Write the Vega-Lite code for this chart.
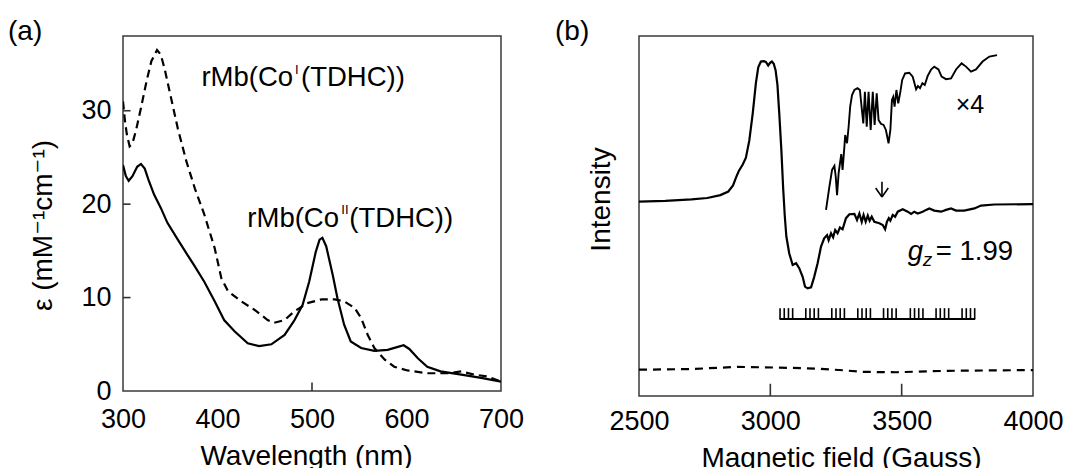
{
  "$schema": "https://vega.github.io/schema/vega-lite/v6.json",
  "padding": {"left": 7, "top": 17, "right": 0, "bottom": 0},
  "bounds": "flush",
  "spacing": 138,
  "config": {
    "font": "Liberation Sans",
    "view": {"stroke": "#3a3a3a", "strokeWidth": 1.5},
    "axis": {"domain": false, "grid": false, "zindex": 1, "labelFontSize": 27, "titleFontSize": 28, "labelColor": "#000", "titleColor": "#000", "titleFontWeight": "normal", "labelFont": "Liberation Sans", "titleFont": "Liberation Sans, DejaVu Sans", "tickColor": "#3a3a3a", "tickWidth": 1.5, "labelFlush": false, "labelOverlap": false},
    "title": {"fontSize": 28, "fontWeight": "normal", "anchor": "start", "frame": "group", "baseline": "alphabetic", "offset": -10, "color": "#000", "font": "Liberation Sans"}
  },
  "datasets": {
    "absII": [
      {"nm":300,"eps":24.2},{"nm":303,"eps":23.0},{"nm":306,"eps":22.5},{"nm":310,"eps":23.0},{"nm":315,"eps":24.0},{"nm":319,"eps":24.3},{"nm":323,"eps":23.8},{"nm":327,"eps":22.6},{"nm":333,"eps":21.0},{"nm":340,"eps":19.6},{"nm":347,"eps":18.0},{"nm":358,"eps":16.2},{"nm":368,"eps":14.6},{"nm":375,"eps":13.5},{"nm":386,"eps":11.7},{"nm":397,"eps":9.6},{"nm":407,"eps":7.6},{"nm":418,"eps":6.4},{"nm":432,"eps":5.1},{"nm":444,"eps":4.8},{"nm":457,"eps":5.0},{"nm":471,"eps":6.0},{"nm":481,"eps":7.5},{"nm":490,"eps":9.2},{"nm":497,"eps":11.7},{"nm":504,"eps":14.9},{"nm":508,"eps":16.2},{"nm":511,"eps":16.4},{"nm":515,"eps":15.5},{"nm":522,"eps":12.4},{"nm":527,"eps":9.9},{"nm":534,"eps":7.1},{"nm":541,"eps":5.3},{"nm":552,"eps":4.6},{"nm":566,"eps":4.3},{"nm":580,"eps":4.4},{"nm":590,"eps":4.7},{"nm":597,"eps":4.9},{"nm":603,"eps":4.5},{"nm":612,"eps":3.5},{"nm":622,"eps":2.6},{"nm":636,"eps":2.1},{"nm":658,"eps":1.75},{"nm":679,"eps":1.4},{"nm":700,"eps":1.0}
    ],
    "absI": [
      {"nm":300,"eps":31.0},{"nm":302,"eps":29.0},{"nm":304,"eps":27.5},{"nm":307,"eps":26.2},{"nm":310,"eps":26.5},{"nm":314,"eps":28.0},{"nm":319,"eps":30.3},{"nm":325,"eps":33.2},{"nm":330,"eps":35.3},{"nm":336,"eps":36.5},{"nm":340,"eps":36.0},{"nm":344,"eps":34.5},{"nm":351,"eps":31.3},{"nm":358,"eps":28.1},{"nm":367,"eps":24.6},{"nm":376,"eps":21.7},{"nm":386,"eps":18.9},{"nm":397,"eps":15.3},{"nm":404,"eps":12.1},{"nm":411,"eps":10.7},{"nm":425,"eps":9.6},{"nm":439,"eps":8.7},{"nm":453,"eps":7.6},{"nm":460,"eps":7.3},{"nm":471,"eps":7.6},{"nm":481,"eps":8.5},{"nm":495,"eps":9.4},{"nm":510,"eps":9.8},{"nm":524,"eps":9.8},{"nm":534,"eps":9.6},{"nm":545,"eps":8.9},{"nm":552,"eps":7.8},{"nm":559,"eps":6.0},{"nm":566,"eps":4.6},{"nm":577,"eps":3.35},{"nm":587,"eps":2.6},{"nm":601,"eps":2.2},{"nm":622,"eps":1.9},{"nm":644,"eps":1.9},{"nm":658,"eps":2.1},{"nm":672,"eps":1.75},{"nm":686,"eps":1.55},{"nm":700,"eps":1.0}
    ],
    "tickAx": [{"nm":500,"eps":0,"eps2":0.9}],
    "tickAy": [{"nm":300,"nm2":308,"eps":10},{"nm":300,"nm2":308,"eps":20},{"nm":300,"nm2":308,"eps":30}],
    "labA": [{"nm":480,"eps":32.7,"t":"rMb(Co"},{"nm":528.6,"eps":17.6,"t":"rMb(Co"}],
    "supA": [{"nm":482,"eps":33.9,"t":"I"},{"nm":531,"eps":19.0,"t":"II"}],
    "labA2": [{"nm":488.4,"eps":32.7,"t":"(TDHC))"},{"nm":539.5,"eps":17.6,"t":"(TDHC))"}],
    "epr": [
      {"G":2500,"I":54.0},{"G":2600,"I":54.2},{"G":2700,"I":54.6},{"G":2760,"I":55.0},{"G":2810,"I":55.8},{"G":2840,"I":56.8},{"G":2858,"I":58.5},{"G":2870,"I":60.8},{"G":2880,"I":62.5},{"G":2895,"I":64.3},{"G":2907,"I":66.2},{"G":2920,"I":71.0},{"G":2933,"I":78.5},{"G":2945,"I":86.9},{"G":2954,"I":91.3},{"G":2964,"I":92.9},{"G":2975,"I":93.0},{"G":2983,"I":92.8},{"G":2992,"I":91.8},{"G":3000,"I":92.6},{"G":3006,"I":92.9},{"G":3013,"I":92.3},{"G":3020,"I":90.5},{"G":3027,"I":86.5},{"G":3034,"I":78.5},{"G":3042,"I":68.3},{"G":3049,"I":57.5},{"G":3055,"I":50.0},{"G":3061,"I":44.3},{"G":3072,"I":39.6},{"G":3085,"I":36.4},{"G":3098,"I":36.9},{"G":3110,"I":35.5},{"G":3123,"I":33.1},{"G":3132,"I":30.4},{"G":3142,"I":29.9},{"G":3155,"I":30.2},{"G":3167,"I":33.1},{"G":3180,"I":36.9},{"G":3193,"I":41.5},{"G":3205,"I":43.8},{"G":3216,"I":44.7},{"G":3222,"I":43.3},{"G":3231,"I":45.2},{"G":3239,"I":44.1},{"G":3247,"I":46.1},{"G":3256,"I":45.2},{"G":3265,"I":46.8},{"G":3275,"I":46.3},{"G":3288,"I":49.4},{"G":3301,"I":50.5},{"G":3320,"I":50.6},{"G":3330,"I":48.9},{"G":3339,"I":50.7},{"G":3348,"I":48.4},{"G":3355,"I":50.3},{"G":3363,"I":48.4},{"G":3371,"I":50.1},{"G":3378,"I":48.7},{"G":3386,"I":49.8},{"G":3396,"I":48.4},{"G":3415,"I":48.0},{"G":3428,"I":47.5},{"G":3437,"I":46.3},{"G":3444,"I":48.4},{"G":3451,"I":49.4},{"G":3457,"I":48.7},{"G":3466,"I":50.3},{"G":3475,"I":49.8},{"G":3485,"I":51.2},{"G":3504,"I":51.9},{"G":3523,"I":51.2},{"G":3536,"I":50.6},{"G":3548,"I":51.2},{"G":3561,"I":50.7},{"G":3580,"I":51.2},{"G":3593,"I":51.7},{"G":3605,"I":52.1},{"G":3624,"I":51.5},{"G":3650,"I":51.2},{"G":3669,"I":51.7},{"G":3688,"I":52.1},{"G":3707,"I":51.5},{"G":3738,"I":51.5},{"G":3777,"I":52.1},{"G":3802,"I":52.9},{"G":3853,"I":53.2},{"G":4000,"I":53.3}
    ],
    "epr4": [
      {"G":3212,"I":51.7},{"G":3225,"I":58.2},{"G":3235,"I":62.8},{"G":3244,"I":63.9},{"G":3249,"I":60.9},{"G":3254,"I":55.8},{"G":3260,"I":61.9},{"G":3266,"I":65.1},{"G":3270,"I":67.2},{"G":3275,"I":62.8},{"G":3282,"I":69.3},{"G":3285,"I":72.5},{"G":3292,"I":70.2},{"G":3298,"I":74.8},{"G":3304,"I":80.4},{"G":3311,"I":83.6},{"G":3320,"I":85.0},{"G":3332,"I":85.5},{"G":3341,"I":85.0},{"G":3348,"I":79.9},{"G":3354,"I":75.7},{"G":3360,"I":84.5},{"G":3367,"I":74.8},{"G":3374,"I":84.5},{"G":3382,"I":73.9},{"G":3390,"I":84.5},{"G":3397,"I":75.3},{"G":3405,"I":84.1},{"G":3412,"I":76.7},{"G":3421,"I":75.6},{"G":3431,"I":75.3},{"G":3440,"I":73.9},{"G":3450,"I":70.2},{"G":3457,"I":73.9},{"G":3463,"I":82.2},{"G":3468,"I":83.1},{"G":3473,"I":80.4},{"G":3480,"I":85.0},{"G":3487,"I":81.3},{"G":3495,"I":84.5},{"G":3502,"I":87.8},{"G":3513,"I":89.6},{"G":3529,"I":89.8},{"G":3542,"I":88.7},{"G":3555,"I":85.2},{"G":3562,"I":86.1},{"G":3570,"I":85.5},{"G":3579,"I":86.9},{"G":3588,"I":86.4},{"G":3599,"I":88.9},{"G":3612,"I":90.7},{"G":3624,"I":91.5},{"G":3640,"I":90.7},{"G":3652,"I":88.7},{"G":3669,"I":88.0},{"G":3688,"I":88.2},{"G":3707,"I":90.7},{"G":3728,"I":92.4},{"G":3745,"I":91.5},{"G":3764,"I":90.1},{"G":3783,"I":90.7},{"G":3808,"I":92.9},{"G":3834,"I":94.3},{"G":3863,"I":94.7}
    ],
    "eprBase": [
      {"G":2500,"I":7.3},{"G":2706,"I":7.5},{"G":2874,"I":8.1},{"G":3028,"I":7.9},{"G":3183,"I":7.6},{"G":3286,"I":7.1},{"G":3351,"I":6.7},{"G":3480,"I":6.6},{"G":3673,"I":7.0},{"G":4000,"I":7.2}
    ],
    "tickBx": [{"G":3000,"I":0,"I2":3.4},{"G":3500,"I":0,"I2":3.4}],
    "stickLine": [{"G":3035,"G2":3780,"I":21.4}],
    "sticks": [
      {"G":3037,"I":21.4,"I2":24.4},{"G":3053,"I":21.4,"I2":24.4},{"G":3069,"I":21.4,"I2":24.4},{"G":3085,"I":21.4,"I2":24.4},
      {"G":3135,"I":21.4,"I2":24.4},{"G":3151,"I":21.4,"I2":24.4},{"G":3167,"I":21.4,"I2":24.4},{"G":3183,"I":21.4,"I2":24.4},
      {"G":3234,"I":21.4,"I2":24.4},{"G":3250,"I":21.4,"I2":24.4},{"G":3266,"I":21.4,"I2":24.4},{"G":3282,"I":21.4,"I2":24.4},
      {"G":3333,"I":21.4,"I2":24.4},{"G":3349,"I":21.4,"I2":24.4},{"G":3365,"I":21.4,"I2":24.4},{"G":3381,"I":21.4,"I2":24.4},
      {"G":3431,"I":21.4,"I2":24.4},{"G":3447,"I":21.4,"I2":24.4},{"G":3463,"I":21.4,"I2":24.4},{"G":3479,"I":21.4,"I2":24.4},
      {"G":3533,"I":21.4,"I2":24.4},{"G":3549,"I":21.4,"I2":24.4},{"G":3565,"I":21.4,"I2":24.4},{"G":3581,"I":21.4,"I2":24.4},
      {"G":3631,"I":21.4,"I2":24.4},{"G":3647,"I":21.4,"I2":24.4},{"G":3663,"I":21.4,"I2":24.4},{"G":3679,"I":21.4,"I2":24.4},
      {"G":3730,"I":21.4,"I2":24.4},{"G":3746,"I":21.4,"I2":24.4},{"G":3762,"I":21.4,"I2":24.4},{"G":3778,"I":21.4,"I2":24.4}
    ],
    "arrow": [
      {"G":3425,"I":59.5,"G2":3425,"I2":55.3},
      {"G":3401,"I":57.8,"G2":3425,"I2":55.3},
      {"G":3449,"I":57.8,"G2":3425,"I2":55.3}
    ],
    "times4": [{"G":3760,"I":80.8,"t":"×4"}],
    "gLab": [{"G":3523,"I":37.8,"t":"g"}],
    "zLab": [{"G":3580,"I":36.0,"t":"z"}],
    "valLab": [{"G":3630,"I":37.8,"t":"= 1.99"}]
  },
  "hconcat": [
    {
      "width": 378,
      "height": 355,
      "title": {"text": "(a)", "dx": -115},
      "layer": [
        {
          "data": {"name": "absII"},
          "mark": {"type": "line", "color": "#000", "strokeWidth": 2.2, "clip": true},
          "encoding": {
            "x": {"field": "nm", "type": "quantitative", "scale": {"domain": [300, 700], "nice": false},
                  "axis": {"title": "Wavelength (nm)", "values": [300, 400, 500, 600, 700], "format": "d", "offset": -8, "tickSize": 8, "labelPadding": 15, "titlePadding": 10, "titleX": 183, "tickOpacity": 0}},
            "y": {"field": "eps", "type": "quantitative", "scale": {"domain": [0, 38], "nice": false},
                  "axis": {"title": "ε (mM⁻¹cm⁻¹)", "values": [0, 10, 20, 30], "format": "d", "offset": -7, "tickSize": 7, "labelPadding": 12, "titlePadding": 23, "titleY": 189, "tickOpacity": 0}}
          }
        },
        {
          "data": {"name": "absI"},
          "mark": {"type": "line", "color": "#000", "strokeWidth": 2.2, "strokeDash": [8, 5], "clip": true},
          "encoding": {
            "x": {"field": "nm", "type": "quantitative"},
            "y": {"field": "eps", "type": "quantitative"}
          }
        },
        {
          "data": {"name": "tickAx"},
          "mark": {"type": "rule", "color": "#333", "strokeWidth": 1.6},
          "encoding": {
            "x": {"field": "nm", "type": "quantitative"},
            "y": {"field": "eps", "type": "quantitative"},
            "y2": {"field": "eps2"}
          }
        },
        {
          "data": {"name": "tickAy"},
          "mark": {"type": "rule", "color": "#333", "strokeWidth": 1.6},
          "encoding": {
            "x": {"field": "nm", "type": "quantitative"},
            "x2": {"field": "nm2"},
            "y": {"field": "eps", "type": "quantitative"}
          }
        },
        {
          "data": {"name": "labA"},
          "mark": {"type": "text", "align": "right", "baseline": "alphabetic", "fontSize": 27.5, "font": "Liberation Sans", "color": "#000"},
          "encoding": {
            "x": {"field": "nm", "type": "quantitative"},
            "y": {"field": "eps", "type": "quantitative"},
            "text": {"field": "t"}
          }
        },
        {
          "data": {"name": "supA"},
          "mark": {"type": "text", "align": "left", "baseline": "alphabetic", "fontSize": 13, "font": "Liberation Sans", "color": "#000"},
          "encoding": {
            "x": {"field": "nm", "type": "quantitative"},
            "y": {"field": "eps", "type": "quantitative"},
            "text": {"field": "t"}
          }
        },
        {
          "data": {"name": "labA2"},
          "mark": {"type": "text", "align": "left", "baseline": "alphabetic", "fontSize": 27.5, "font": "Liberation Sans", "color": "#000"},
          "encoding": {
            "x": {"field": "nm", "type": "quantitative"},
            "y": {"field": "eps", "type": "quantitative"},
            "text": {"field": "t"}
          }
        }
      ]
    },
    {
      "width": 394,
      "height": 360,
      "title": {"text": "(b)", "dx": -84},
      "layer": [
        {
          "data": {"name": "epr"},
          "mark": {"type": "line", "color": "#000", "strokeWidth": 2.2, "clip": true},
          "encoding": {
            "x": {"field": "G", "type": "quantitative", "scale": {"domain": [2500, 4000], "nice": false},
                  "axis": {"title": "Magnetic field (Gauss)", "values": [2500, 3000, 3500, 4000], "format": "d", "offset": -12, "tickSize": 12, "labelPadding": 12, "titlePadding": 10, "titleX": 202, "tickOpacity": 0}},
            "y": {"field": "I", "type": "quantitative", "scale": {"domain": [0, 100], "nice": false},
                  "axis": {"title": "Intensity", "labels": false, "ticks": false, "titlePadding": 24, "titleY": 163}}
          }
        },
        {
          "data": {"name": "epr4"},
          "mark": {"type": "line", "color": "#000", "strokeWidth": 1.9, "clip": true},
          "encoding": {
            "x": {"field": "G", "type": "quantitative"},
            "y": {"field": "I", "type": "quantitative"}
          }
        },
        {
          "data": {"name": "eprBase"},
          "mark": {"type": "line", "color": "#000", "strokeWidth": 2.2, "strokeDash": [8, 6], "clip": true},
          "encoding": {
            "x": {"field": "G", "type": "quantitative"},
            "y": {"field": "I", "type": "quantitative"}
          }
        },
        {
          "data": {"name": "tickBx"},
          "mark": {"type": "rule", "color": "#333", "strokeWidth": 1.6},
          "encoding": {
            "x": {"field": "G", "type": "quantitative"},
            "y": {"field": "I", "type": "quantitative"},
            "y2": {"field": "I2"}
          }
        },
        {
          "data": {"name": "stickLine"},
          "mark": {"type": "rule", "color": "#000", "strokeWidth": 2},
          "encoding": {
            "x": {"field": "G", "type": "quantitative"},
            "x2": {"field": "G2"},
            "y": {"field": "I", "type": "quantitative"}
          }
        },
        {
          "data": {"name": "sticks"},
          "mark": {"type": "rule", "color": "#000", "strokeWidth": 1.6},
          "encoding": {
            "x": {"field": "G", "type": "quantitative"},
            "y": {"field": "I", "type": "quantitative"},
            "y2": {"field": "I2"}
          }
        },
        {
          "data": {"name": "arrow"},
          "mark": {"type": "rule", "color": "#000", "strokeWidth": 1.6},
          "encoding": {
            "x": {"field": "G", "type": "quantitative"},
            "y": {"field": "I", "type": "quantitative"},
            "x2": {"field": "G2"},
            "y2": {"field": "I2"}
          }
        },
        {
          "data": {"name": "times4"},
          "mark": {"type": "text", "align": "center", "baseline": "middle", "fontSize": 25, "font": "Liberation Sans", "color": "#000"},
          "encoding": {
            "x": {"field": "G", "type": "quantitative"},
            "y": {"field": "I", "type": "quantitative"},
            "text": {"field": "t"}
          }
        },
        {
          "data": {"name": "gLab"},
          "mark": {"type": "text", "align": "left", "baseline": "alphabetic", "fontSize": 27.5, "fontStyle": "italic", "font": "Liberation Sans", "color": "#000"},
          "encoding": {
            "x": {"field": "G", "type": "quantitative"},
            "y": {"field": "I", "type": "quantitative"},
            "text": {"field": "t"}
          }
        },
        {
          "data": {"name": "zLab"},
          "mark": {"type": "text", "align": "left", "baseline": "alphabetic", "fontSize": 19, "fontStyle": "italic", "font": "Liberation Sans", "color": "#000"},
          "encoding": {
            "x": {"field": "G", "type": "quantitative"},
            "y": {"field": "I", "type": "quantitative"},
            "text": {"field": "t"}
          }
        },
        {
          "data": {"name": "valLab"},
          "mark": {"type": "text", "align": "left", "baseline": "alphabetic", "fontSize": 27.5, "font": "Liberation Sans", "color": "#000"},
          "encoding": {
            "x": {"field": "G", "type": "quantitative"},
            "y": {"field": "I", "type": "quantitative"},
            "text": {"field": "t"}
          }
        }
      ]
    }
  ]
}
